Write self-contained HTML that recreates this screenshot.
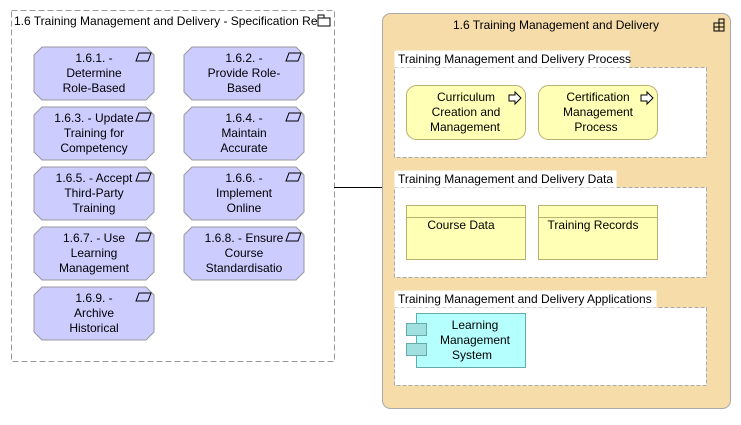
<!DOCTYPE html>
<html><head><style>
body{margin:0;width:741px;height:420px;background:#fff;overflow:hidden}
svg text{font-family:"Liberation Sans",sans-serif;font-size:12px;fill:#000}
</style></head><body>
<svg width="741" height="420" xmlns="http://www.w3.org/2000/svg">
<defs>
<g id="oct"><polygon points="8,0 112,0 120,8 120,45 112,53 8,53 0,45 0,8" fill="#ccccff" stroke="#999"/>
<polygon points="105,6 117,6 114,14 102,14" fill="none" stroke="#000"/></g>
</defs>
<rect x="11.5" y="10.5" width="323" height="351" fill="#fff" stroke="#999" stroke-dasharray="6,3"/>
<text x="14" y="25">1.6 Training Management and Delivery - Specification Rec</text>
<rect x="318" y="18" width="12" height="8" fill="#fff" stroke="#000"/><rect x="318" y="15" width="6" height="3" fill="#fff" stroke="#000"/>
<g>
<use href="#oct" x="34" y="47"/><use href="#oct" x="184" y="47"/>
<use href="#oct" x="34" y="107"/><use href="#oct" x="184" y="107"/>
<use href="#oct" x="34" y="167"/><use href="#oct" x="184" y="167"/>
<use href="#oct" x="34" y="227"/><use href="#oct" x="184" y="227"/>
<use href="#oct" x="34" y="287"/>
</g>
<g text-anchor="middle">
<text x="94" y="62">1.6.1. -</text><text x="94" y="77">Determine</text><text x="94" y="92">Role-Based</text>
<text x="244" y="62">1.6.2. -</text><text x="244" y="77">Provide Role-</text><text x="244" y="92">Based</text>
<text x="94" y="122">1.6.3. - Update</text><text x="94" y="137">Training for</text><text x="94" y="152">Competency</text>
<text x="244" y="122">1.6.4. -</text><text x="244" y="137">Maintain</text><text x="244" y="152">Accurate</text>
<text x="94" y="182">1.6.5. - Accept</text><text x="94" y="197">Third-Party</text><text x="94" y="212">Training</text>
<text x="244" y="182">1.6.6. -</text><text x="244" y="197">Implement</text><text x="244" y="212">Online</text>
<text x="94" y="242">1.6.7. - Use</text><text x="94" y="257">Learning</text><text x="94" y="272">Management</text>
<text x="244" y="242">1.6.8. - Ensure</text><text x="244" y="257">Course</text><text x="244" y="272">Standardisatio</text>
<text x="94" y="302">1.6.9. -</text><text x="94" y="317">Archive</text><text x="94" y="332">Historical</text>
</g>
<line x1="334" y1="187.5" x2="382" y2="187.5" stroke="#000"/>
<rect x="382.5" y="13.5" width="348" height="395" rx="8" fill="#f5dca8" stroke="#aaa"/>
<text x="556" y="29" text-anchor="middle">1.6 Training Management and Delivery</text>
<g fill="none" stroke="#000"><rect x="714" y="23" width="10" height="8"/><line x1="714" y1="27" x2="724" y2="27"/><line x1="719" y1="19" x2="719" y2="31"/><rect x="719" y="19" width="5" height="4"/></g>
<g stroke="#aaa">
<rect x="394.5" y="67.5" width="312" height="90" fill="#fff" stroke-dasharray="4,2"/>
<rect x="394.5" y="50.5" width="235" height="17" fill="#fff" stroke="none"/>
<rect x="394.5" y="187.5" width="312" height="90" fill="#fff" stroke-dasharray="4,2"/>
<rect x="394.5" y="170.5" width="222" height="17" fill="#fff" stroke="none"/>
<rect x="394.5" y="307.5" width="312" height="78" fill="#fff" stroke-dasharray="4,2"/>
<rect x="394.5" y="290.5" width="262" height="17" fill="#fff" stroke="none"/>
</g>
<text x="398" y="63">Training Management and Delivery Process</text>
<text x="398" y="183">Training Management and Delivery Data</text>
<text x="398" y="303">Training Management and Delivery Applications</text>
<rect x="406.5" y="85.5" width="119" height="54" rx="10" fill="#ffffb5" stroke="#b8b070"/>
<rect x="538.5" y="85.5" width="119" height="54" rx="10" fill="#ffffb5" stroke="#b8b070"/>
<g fill="#fff" stroke="#000"><polygon points="509,95 515,95 515,92 521,98 515,104 515,101 509,101"/><polygon points="641,95 647,95 647,92 653,98 647,104 647,101 641,101"/></g>
<g text-anchor="middle">
<text x="466" y="101">Curriculum</text><text x="466" y="116">Creation and</text><text x="465" y="131">Management</text>
<text x="598" y="101">Certification</text><text x="598" y="116">Management</text><text x="596" y="131">Process</text>
</g>
<g fill="#ffffb5" stroke="#b8b070">
<rect x="406.5" y="205.5" width="119" height="54"/><line x1="406" y1="217.5" x2="526" y2="217.5"/>
<rect x="538.5" y="205.5" width="119" height="54"/><line x1="538" y1="217.5" x2="658" y2="217.5"/>
</g>
<text x="461" y="229" text-anchor="middle">Course Data</text>
<text x="593" y="229" text-anchor="middle">Training Records</text>
<rect x="416.5" y="313.5" width="109" height="54" fill="#b5ffff" stroke="#6aa"/>
<rect x="406.5" y="323.5" width="20" height="12" fill="#a0e0e0" stroke="#6aa"/>
<rect x="406.5" y="343.5" width="20" height="12" fill="#a0e0e0" stroke="#6aa"/>
<g text-anchor="middle"><text x="475" y="329">Learning</text><text x="475" y="344">Management</text><text x="472" y="359">System</text></g>
</svg>
</body></html>
